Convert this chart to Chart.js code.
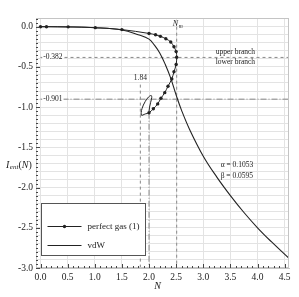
<!DOCTYPE html>
<html>
<head>
<meta charset="utf-8">
<script src="https://cdn.jsdelivr.net/npm/chart.js@4.4.0/dist/chart.umd.min.js"></script>
<style>
  html, body { margin: 0; padding: 0; background: #fff; }
  canvas { display: block; }
</style>
</head>
<body>
<canvas id="chart" width="299" height="297"></canvas>
<script>
// perfect gas curve (marked points), upper branch then lower branch
const gasN = [0, 0.11, 0.51, 1.01, 1.5, 2.0, 2.12, 2.21, 2.31, 2.40, 2.46, 2.50, 2.51, 2.50, 2.46, 2.42, 2.35, 2.29, 2.22, 2.16, 2.08, 2.00];
const gasI = [0, 0, -0.002, -0.012, -0.036, -0.084, -0.10, -0.12, -0.15, -0.19, -0.25, -0.31, -0.38, -0.47, -0.56, -0.65, -0.74, -0.82, -0.89, -0.96, -1.02, -1.07];
// small loop at the end of the lower branch (no markers)
const loopN = [1.93, 1.86, 1.87, 1.93, 1.99, 2.04, 2.05, 2.03, 2.01, 2.00];
const loopI = [-1.085, -1.10, -1.02, -0.93, -0.875, -0.855, -0.88, -0.94, -1.0, -1.05];

// van der Waals curve
const vdwN = [0, 0.5, 1.0, 1.5, 1.8, 2.0, 2.1, 2.2, 2.3, 2.4, 2.5, 2.6, 2.75, 3.0, 3.25, 3.5, 3.75, 4.0, 4.25, 4.58];
const vdwI = [0, -0.003, -0.013, -0.042, -0.10, -0.155, -0.23, -0.33, -0.47, -0.64, -0.85, -1.04, -1.28, -1.61, -1.87, -2.10, -2.31, -2.50, -2.67, -2.88];

// reference levels
const levelI = [-0.382, -0.901];
const levelDash = [[3, 3], [6, 2, 1, 2]];
const markN = [1.84, 2.0, 2.51];          // vertical markers
const markTop = [-0.72, -1.07, 0.0];      // where each vertical marker starts
const markDash = [[3, 3], [6, 2, 1, 2], [3, 3]];

const xMin = -0.083, xMax = 4.58, yMin = -3.0, yMax = 0.108;

const serif = '"Liberation Serif", "DejaVu Serif", serif';
const ink = '#222';

function isStep(v, s) { return Math.abs(v / s - Math.round(v / s)) < 1e-6; }
function pts(xs, ys) { return xs.map((x, i) => ({ x, y: ys[i] })); }

const datasets = [
  {
    label: 'perfect gas (1)',
    data: pts(gasN.concat(loopN), gasI.concat(loopI)),
    showLine: true, borderColor: ink, borderWidth: 1, tension: 0.35,
    pointRadius: ctx => ctx.dataIndex < gasN.length ? 1.7 : 0,
    pointBackgroundColor: ink, pointBorderWidth: 0
  },
  {
    label: 'vdW',
    data: pts(vdwN, vdwI),
    showLine: true, borderColor: ink, borderWidth: 1.1, tension: 0.4, pointRadius: 0
  }
];
levelI.forEach((v, i) => datasets.push({
  label: '', data: [{ x: 0, y: v }, { x: xMax, y: v }],
  showLine: true, borderColor: '#888', borderWidth: 1, borderDash: levelDash[i], pointRadius: 0
}));
markN.forEach((n, i) => datasets.push({
  label: '', data: [{ x: n, y: markTop[i] }, { x: n, y: yMin }],
  showLine: true, borderColor: '#888', borderWidth: 1, borderDash: markDash[i], pointRadius: 0
}));

function stepTicks(step) {
  return function (scale) {
    const t = [];
    for (let i = Math.ceil(scale.min / step - 1e-9); i * step <= scale.max + 1e-9; i++) {
      t.push({ value: +(i * step).toFixed(3) });
    }
    scale.ticks = t;
  };
}
function halfLabel(v) {
  if (!isStep(v, 0.5)) return '';
  if (Math.abs(v) < 1e-9) return '0.0';
  return v.toFixed(1);
}

function text(ctx, s, x, y, font, align, bg) {
  ctx.font = font;
  ctx.textAlign = align || 'left';
  ctx.textBaseline = 'middle';
  if (bg) {
    const w = ctx.measureText(s).width;
    const x0 = align === 'center' ? x - w / 2 : x;
    ctx.fillStyle = '#fff';
    ctx.fillRect(x0 - 1, y - 5, w + 2, 10);
  }
  ctx.fillStyle = ink;
  ctx.fillText(s, x, y);
}

const decor = {
  id: 'decor',
  afterDraw(chart) {
    const { ctx, chartArea: a, scales: { x, y } } = chart;
    ctx.save();
    // frame
    ctx.strokeStyle = '#c4c4c4';
    ctx.lineWidth = 1;
    ctx.strokeRect(a.left + 0.5, a.top + 0.5, a.right - a.left - 1, a.bottom - a.top - 1);
    // inner tick marks
    ctx.strokeStyle = '#444';
    x.ticks.forEach(t => {
      if (!isStep(t.value, 0.1)) return;
      const px = Math.round(x.getPixelForValue(t.value)) + 0.5;
      const len = isStep(t.value, 0.5) ? 4 : 2;
      ctx.beginPath(); ctx.moveTo(px, a.bottom); ctx.lineTo(px, a.bottom - len); ctx.stroke();
    });
    y.ticks.forEach(t => {
      if (!isStep(t.value, 0.05)) return;
      const py = Math.round(y.getPixelForValue(t.value)) + 0.5;
      const len = isStep(t.value, 0.5) ? 4 : 2;
      ctx.beginPath(); ctx.moveTo(a.left, py); ctx.lineTo(a.left + len, py); ctx.stroke();
    });

    // annotations
    const small = '7.5px ' + serif;
    const px = v => x.getPixelForValue(v), py = v => y.getPixelForValue(v);
    text(ctx, '-0.382', px(0.05), py(levelI[0]), small, 'left', true);
    text(ctx, '-0.901', px(0.05), py(levelI[1]), small, 'left', true);
    text(ctx, 'upper branch', px(3.23), py(-0.31), small, 'left');
    text(ctx, 'lower branch', px(3.23), py(-0.44), small, 'left');
    text(ctx, '1.84', px(markN[0]), py(-0.635), small, 'center');
    text(ctx, '\u03b1 = 0.1053', px(3.32), py(-1.72), small, 'left');
    text(ctx, '\u03b2 = 0.0595', px(3.32), py(-1.86), small, 'left');
    // N_m
    ctx.font = 'italic 8px ' + serif;
    ctx.textAlign = 'left'; ctx.textBaseline = 'middle'; ctx.fillStyle = ink;
    const nx = px(markN[2]) - 4;
    ctx.fillText('N', nx, 24);
    ctx.font = 'italic 5.5px ' + serif;
    ctx.fillText('m', nx + 6, 26.5);

    // axis titles
    ctx.font = 'italic 10px ' + serif;
    ctx.fillText('N', px(2.15) - 3, 286);
    let tx = 6, ty = 165;
    ctx.fillText('I', tx, ty); tx += ctx.measureText('I').width + 0.5;
    ctx.font = 'italic 7px ' + serif;
    ctx.fillText('ent', tx, ty + 2.5); tx += ctx.measureText('ent').width;
    ctx.font = '10px ' + serif;
    ctx.fillText('(', tx, ty); tx += ctx.measureText('(').width;
    ctx.font = 'italic 10px ' + serif;
    ctx.fillText('N', tx, ty); tx += ctx.measureText('N').width;
    ctx.font = '10px ' + serif;
    ctx.fillText(')', tx, ty);

    // legend box
    const bx = 41.5, by = 203.5, bw = 104, bh = 52;
    ctx.fillStyle = '#fff';
    ctx.fillRect(bx, by, bw, bh);
    ctx.strokeStyle = '#555';
    ctx.strokeRect(bx, by, bw, bh);
    const rows = [226.5, 245.5];
    chart.data.datasets.slice(0, 2).forEach((ds, i) => {
      const ry = rows[i];
      ctx.strokeStyle = ink; ctx.lineWidth = 1;
      ctx.beginPath(); ctx.moveTo(47.5, ry); ctx.lineTo(81.5, ry); ctx.stroke();
      if (i === 0) {
        ctx.fillStyle = ink;
        ctx.beginPath(); ctx.arc(64.5, ry, 1.7, 0, Math.PI * 2); ctx.fill();
      }
      text(ctx, ds.label, 87.5, ry, '9px ' + serif, 'left');
    });
    ctx.restore();
  }
};

new Chart(document.getElementById('chart'), {
  type: 'scatter',
  data: { datasets },
  plugins: [decor],
  options: {
    responsive: false,
    animation: false,
    devicePixelRatio: 1,
    layout: { padding: { left: 0, right: 10, top: 18, bottom: 0 } },
    plugins: { legend: { display: false }, tooltip: { enabled: false } },
    scales: {
      x: {
        type: 'linear', min: xMin, max: xMax,
        afterBuildTicks: stepTicks(0.1),
        afterFit: s => { s.height = 29; },
        grid: { color: c => (c.tick && isStep(c.tick.value, 0.5)) ? '#e3e3e3' : 'rgba(0,0,0,0)', drawTicks: false },
        border: { color: '#c4c4c4' },
        ticks: { autoSkip: false, maxRotation: 0, padding: 4, color: ink, font: { family: serif, size: 9.5 }, callback: v => halfLabel(v) }
      },
      y: {
        type: 'linear', min: yMin, max: yMax,
        afterBuildTicks: stepTicks(0.05),
        afterFit: s => { s.width = 36; },
        grid: { color: c => (c.tick && isStep(c.tick.value, 0.1)) ? '#e3e3e3' : 'rgba(0,0,0,0)', drawTicks: false },
        border: { color: '#c4c4c4' },
        ticks: { autoSkip: false, padding: 3, color: ink, font: { family: serif, size: 9.5 }, callback: v => halfLabel(v) }
      }
    }
  }
});
</script>
</body>
</html>
